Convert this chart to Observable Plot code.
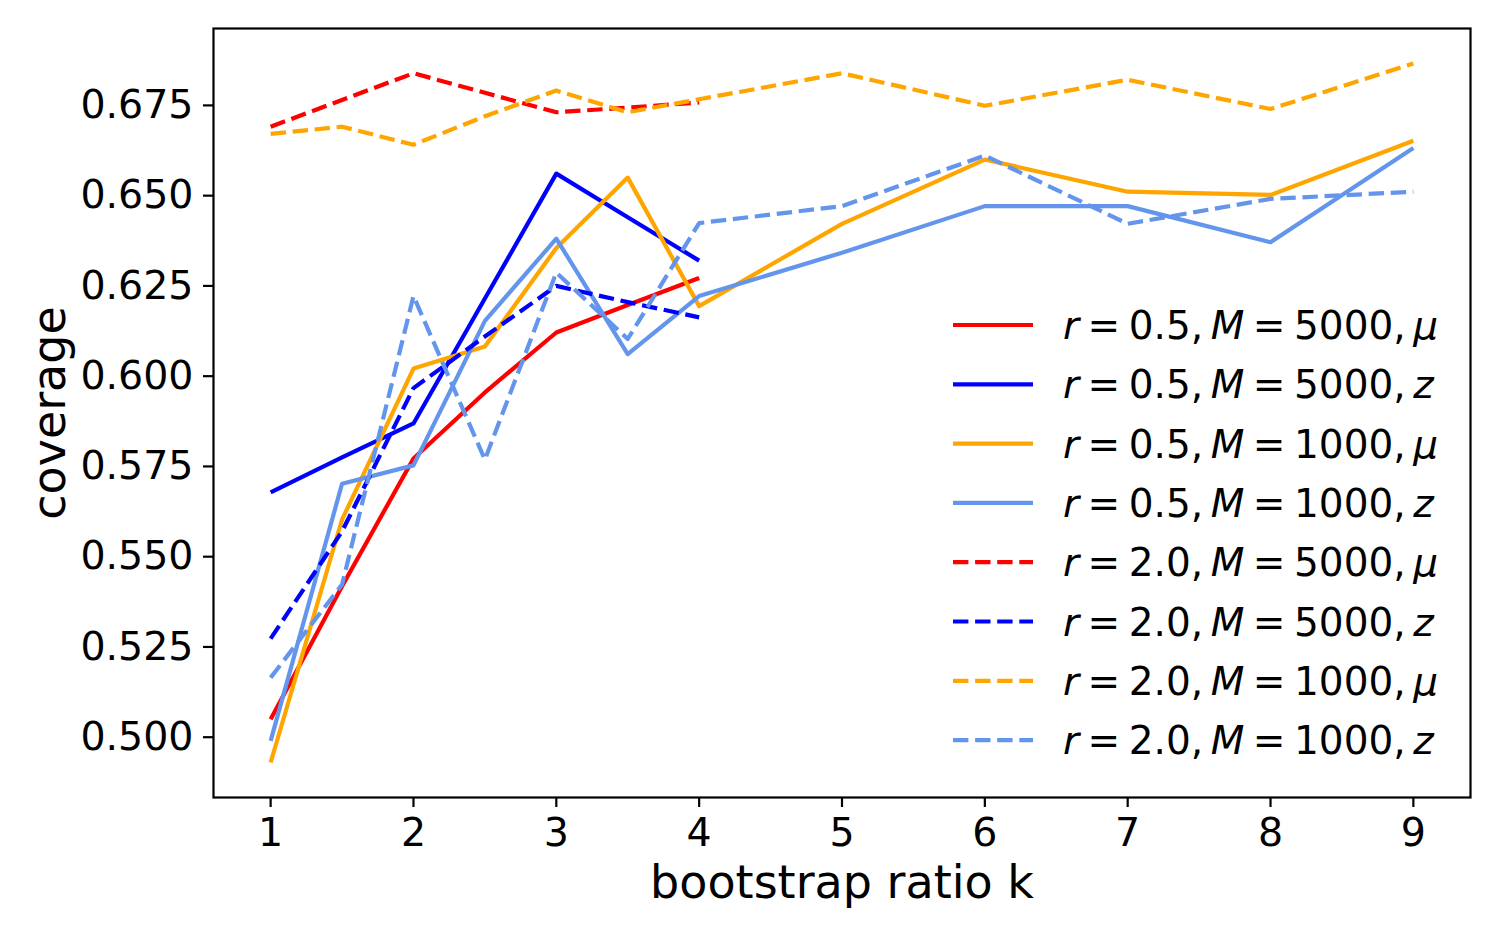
<!DOCTYPE html>
<html>
<head>
<meta charset="utf-8">
<script src="https://cdn.jsdelivr.net/npm/d3@7"></script>
<script src="https://cdn.jsdelivr.net/npm/@observablehq/plot@0.6"></script>
<style>
  html, body { margin: 0; padding: 0; background: #fff; }
  #chart svg { display: block; }
</style>
</head>
<body>
<div id="chart"></div>
<script>
// ---- data ----
const kShort = [1, 1.5, 2, 2.5, 3, 3.5, 4];
const kLong  = [1, 1.5, 2, 2.5, 3, 3.5, 4, 5, 6, 7, 8, 9];

const r05_M5000_mu = [0.505, 0.5418, 0.5772, 0.5955, 0.6121, 0.6197, 0.6272];
const r05_M5000_z  = [0.5678, 0.5775, 0.5869, 0.6215, 0.6561, 0.6440, 0.6320];
const r05_M1000_mu = [0.493, 0.5603, 0.6021, 0.6082, 0.6355, 0.6550, 0.6194, 0.6422, 0.6600, 0.6511, 0.6502, 0.6652];
const r05_M1000_z  = [0.499, 0.5702, 0.5753, 0.6153, 0.6381, 0.6061, 0.6222, 0.6342, 0.6471, 0.6471, 0.6371, 0.6632];
const r20_M5000_mu = [0.6691, 0.6765, 0.6839, 0.6785, 0.6731, 0.6744, 0.6758];
const r20_M5000_z  = [0.5273, 0.5570, 0.5967, 0.6110, 0.6250, 0.6205, 0.6163];
const r20_M1000_mu = [0.6671, 0.6691, 0.6641, 0.6720, 0.6791, 0.6731, 0.6767, 0.6839, 0.6749, 0.6821, 0.6740, 0.6866];
const r20_M1000_z  = [0.5165, 0.5423, 0.6222, 0.5769, 0.6287, 0.6103, 0.6424, 0.6471, 0.6611, 0.6422, 0.6491, 0.6511];

const seriesValues = [r05_M5000_mu, r05_M5000_z, r05_M1000_mu, r05_M1000_z,
                      r20_M5000_mu, r20_M5000_z, r20_M1000_mu, r20_M1000_z];
const seriesR    = ["0.5", "0.5", "0.5", "0.5", "2.0", "2.0", "2.0", "2.0"];
const seriesM    = ["5000", "5000", "1000", "1000", "5000", "5000", "1000", "1000"];
const seriesStat = ["μ", "z", "μ", "z", "μ", "z", "μ", "z"];
const seriesColors = ["red", "#0000ff", "orange", "cornflowerblue",
                      "red", "#0000ff", "orange", "cornflowerblue"];
const seriesDashed = [false, false, false, false, true, true, true, true];

const xTicks = [1, 2, 3, 4, 5, 6, 7, 8, 9];
const yTicks = [0.500, 0.525, 0.550, 0.575, 0.600, 0.625, 0.650, 0.675];
const xLabel = "bootstrap ratio k";
const yLabel = "coverage";

// ---- build table ----
const rows = [];
seriesValues.forEach((vals, s) => {
  const ks = vals.length === kShort.length ? kShort : kLong;
  vals.forEach((v, i) => rows.push({series: s, k: ks[i], value: v}));
});

const W = 1499, H = 937;
const mL = 213, mR = 29, mT = 28, mB = 140;
const DASH = "15.4,6.7";
const LW = 4.2;

const lineMarks = seriesValues.map((_, s) =>
  Plot.line(rows.filter(d => d.series === s), {
    x: "k", y: "value",
    stroke: seriesColors[s],
    strokeWidth: LW,
    strokeDasharray: seriesDashed[s] ? DASH : null,
    strokeLinejoin: "round",
    strokeLinecap: "butt"
  })
);

const chart = Plot.plot({
  width: W, height: H,
  marginLeft: mL, marginRight: mR, marginTop: mT, marginBottom: mB,
  style: {fontFamily: "DejaVu Sans", color: "black", background: "white", overflow: "visible"},
  x: {domain: [0.6, 9.4]},
  y: {domain: [0.4833, 0.6963]},
  marks: [
    ...lineMarks,
    Plot.frame({stroke: "black", strokeWidth: 2.2}),
    Plot.axisX(xTicks, {anchor: "bottom", tickSize: 10, tickPadding: 10, strokeWidth: 2.2,
      fontSize: 39.5, label: null, tickFormat: d => String(d)}),
    Plot.axisY(yTicks, {anchor: "left", tickSize: 10, tickPadding: 10, strokeWidth: 2.2,
      fontSize: 39.5, label: null, tickFormat: d3.format(".3f")}),
    Plot.text([xLabel], {frameAnchor: "bottom", text: d => d, dy: 68, lineAnchor: "top",
      textAnchor: "middle", fontSize: 46, fill: "black"}),
    Plot.text([yLabel], {frameAnchor: "left", text: d => d, dx: -163, rotate: -90,
      lineAnchor: "middle", textAnchor: "middle", fontSize: 46, fill: "black"})
  ]
});

document.getElementById("chart").appendChild(chart);

const svg = d3.select(chart);
// make sure every series line carries the intended width
svg.selectAll('g[aria-label="line"]').attr("stroke-width", LW);
svg.selectAll('g[aria-label="line"] path').attr("stroke-width", LW);

// ---- legend (inside the plot, right side) ----
const lg = svg.append("g")
  .attr("font-family", "DejaVu Sans").attr("font-size", 39)
  .attr("fill", "black").attr("text-anchor", "start");
const legX0 = 953, legX1 = 1033, legTextX = 1063, legY0 = 325, legStep = 59.3;
const sp = 8.5;
seriesValues.forEach((_, s) => {
  const y = legY0 + s * legStep;
  lg.append("line")
    .attr("x1", legX0).attr("x2", legX1).attr("y1", y).attr("y2", y)
    .attr("stroke", seriesColors[s]).attr("stroke-width", LW)
    .attr("stroke-dasharray", seriesDashed[s] ? DASH : null);
  const t = lg.append("text").attr("x", legTextX).attr("y", y + 14).attr("text-anchor", "start");
  t.append("tspan").attr("font-style", "italic").text("r");
  t.append("tspan").attr("dx", sp).text("=");
  t.append("tspan").attr("dx", sp).text(seriesR[s] + ",");
  t.append("tspan").attr("dx", sp - 1).attr("font-style", "italic").text("M");
  t.append("tspan").attr("dx", sp).text("=");
  t.append("tspan").attr("dx", sp).text(seriesM[s] + ",");
  t.append("tspan").attr("dx", sp - 1).attr("font-style", "italic").text(seriesStat[s]);
});
</script>
</body>
</html>
